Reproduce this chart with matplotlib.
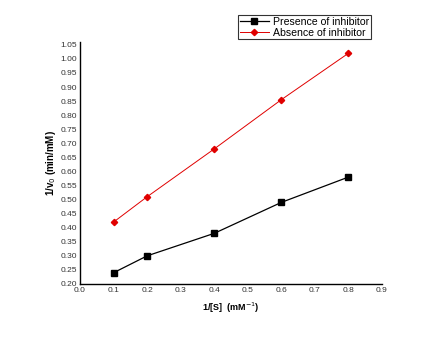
import matplotlib
matplotlib.use("Agg")
import matplotlib.pyplot as plt
import numpy as np

plt.rcParams['font.family'] = ['Liberation Sans', 'DejaVu Sans']

s_inv = [0.1, 0.2, 0.4, 0.6, 0.8]
presence = [0.24, 0.30, 0.38, 0.49, 0.58]
absence = [0.42, 0.51, 0.68, 0.855, 1.02]
xticks = [0.0, 0.1, 0.2, 0.3, 0.4, 0.5, 0.6, 0.7, 0.8, 0.9]
yticks = [0.20, 0.25, 0.30, 0.35, 0.40, 0.45, 0.50, 0.55, 0.60, 0.65, 0.70,
          0.75, 0.80, 0.85, 0.90, 0.95, 1.00, 1.05]

fig = plt.figure(figsize=(4.43, 3.41), dpi=100)
ax = fig.add_axes([80/443, 1-284/341, (382-80)/443, (284-42)/341])

l1, = ax.plot(s_inv, presence, color='black', marker='s', markersize=3.8, lw=0.9,
              label='Presence of inhibitor')
l2, = ax.plot(s_inv, absence, color='#e00000', marker='D', markersize=3.2, lw=0.7,
              label='Absence of inhibitor')

ax.set_xlim(0, 0.9)
ax.set_ylim(0.2, 1.06)
ax.set_xticks(xticks)
ax.set_xticklabels([f"{v:.1f}" for v in xticks])
ax.set_yticks(yticks)
ax.set_yticklabels([f"{v:.2f}" for v in yticks])
ax.tick_params(axis='both', length=0, labelsize=6, colors='#333333', pad=2)
for sp in ['top', 'right']:
    ax.spines[sp].set_visible(False)
for sp in ['left', 'bottom']:
    ax.spines[sp].set_linewidth(1.0)

ax.set_xlabel('1/[S]  (mM$^{-1}$)', fontsize=6.5, fontweight='bold', labelpad=5)
ax.set_ylabel('1/v$_0$ (min/mM)', fontsize=7, fontweight='bold', labelpad=2)

leg = fig.legend(handles=[l1, l2], loc='upper left',
                 bbox_to_anchor=(238/443, 1-15/341), fontsize=7.6,
                 frameon=True, fancybox=False, edgecolor='black',
                 borderpad=0.15, labelspacing=0.1, handlelength=2.8,
                 handletextpad=0.4, borderaxespad=0)
leg.get_frame().set_linewidth(0.8)

fig.savefig('out.png', dpi=100)
